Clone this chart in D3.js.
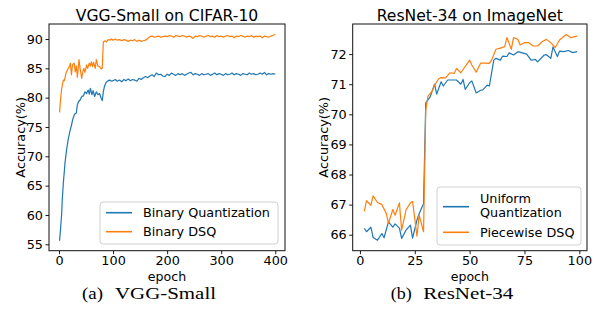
<!DOCTYPE html>
<html>
<head>
<meta charset="utf-8">
<script src="https://cdn.jsdelivr.net/npm/d3@7"></script>
<style>
  body { margin: 0; background: #fff; }
  svg { display: block; font-family: "DejaVu Sans", sans-serif; }
</style>
</head>
<body>
<svg width="597" height="314"></svg>
<script>
// ---- data ----
// (a) VGG-Small on CIFAR-10: [epoch, accuracy]
const vggBinary = [[1,55.6],[3,57.8],[5,60.3],[6,62.5],[8,65.4],[10,67.6],[11,68.8],[14,71.1],[17,72.9],[20,74.2],[23,75.3],[26,76.5],[29,77.2],[32,77.4],[34,78.8],[36,79.3],[39,79.6],[42,80.2],[45,80.3],[48,81.0],[51,80.7],[54,81.3],[56,80.6],[58,81.6],[61,80.5],[63,81.2],[66,80.2],[69,81.0],[72,80.5],[75,80.7],[78,79.9],[80,79.5],[82,81.0],[84,81.9],[87,82.6],[91,82.9],[94,83.0],[97,82.8],
  [100,82.9],[104,83.1],[108,82.8],[112,83.0],[116,82.7],[120,83.1],[124,82.9],[128,83.2],[132,82.9],[136,83.1],[140,83.0],[144,82.8],[148,83.3],[152,83.1],[156,83.4],[160,83.6],[164,83.4],[168,83.7],[172,83.9],[176,83.6],[180,84.2],[184,83.9],[188,84.0],[192,83.7],[196,83.6],[200,84.0],[204,83.8],[208,84.2],[212,84.0],[216,83.8],[220,84.1],[224,83.9],[228,84.1],[232,83.8],[236,84.0],[240,84.2],[244,84.3],[248,83.9],[252,84.1],[256,84.0],[260,83.8],[264,84.1],[268,83.9],[272,84.0],[276,84.1],[280,83.8],[284,84.0],[288,84.2],[292,83.9],[296,84.1],[300,84.0],[304,83.8],[308,84.1],[312,83.9],[316,84.0],[320,84.2],[324,83.9],[328,84.1],[332,84.0],[336,83.8],[340,84.1],[344,84.0],[348,83.9],[352,84.2],[356,84.0],[360,84.1],[364,83.9],[368,84.0],[372,84.2],[376,84.0],[380,84.3],[384,83.9],[388,84.1],[392,84.0],[396,84.1],[400,84.0]];
const vggDSQ = [[1,77.5],[3,79.8],[5,81.6],[8,83.0],[10,82.9],[13,84.2],[16,84.8],[19,85.3],[21,85.9],[23,83.9],[25,85.6],[28,85.9],[30,84.4],[32,85.4],[34,83.5],[37,86.5],[39,85.0],[42,83.3],[44,84.4],[46,85.0],[48,84.3],[51,85.6],[53,85.0],[56,85.9],[58,85.4],[60,86.1],[62,85.3],[64,86.0],[67,85.0],[69,86.5],[72,85.4],[75,85.3],[78,84.9],[80,85.0],[82,89.5],[85,89.7],[88,89.5],[91,89.9],[94,89.8],[97,90.0],
  [100,89.8],[104,90.0],[108,89.8],[112,89.9],[116,89.7],[120,89.9],[124,89.8],[128,89.6],[132,89.8],[136,89.7],[140,89.9],[144,89.6],[148,89.8],[152,89.6],[156,89.7],[160,89.8],[164,90.1],[168,90.4],[172,90.5],[176,90.3],[180,90.4],[184,90.5],[188,90.3],[192,90.4],[196,90.5],[200,90.4],[204,90.6],[208,90.5],[212,90.3],[216,90.6],[220,90.5],[224,90.4],[228,90.6],[232,90.5],[236,90.3],[240,90.5],[244,90.4],[248,90.1],[252,90.5],[256,90.4],[260,90.6],[264,90.5],[268,90.3],[272,90.5],[276,90.6],[280,90.4],[284,90.5],[288,90.3],[292,90.6],[296,90.4],[300,90.5],[304,90.3],[308,90.5],[312,90.6],[316,90.4],[320,90.5],[324,90.2],[328,90.5],[332,90.4],[336,90.6],[340,90.5],[344,90.3],[348,90.5],[352,90.4],[356,90.6],[360,90.3],[364,90.5],[368,90.4],[372,90.5],[376,90.2],[380,90.5],[384,90.4],[388,90.3],[392,90.5],[396,90.6],[400,90.8]];

// (b) ResNet-34 on ImageNet: [epoch, accuracy]
const resUniform = [[2,66.21],[3,66.1],[5,66.25],[6,65.91],[8,65.82],[10,66.04],[11,65.9],[13,66.43],[15,66.25],[16,66.36],[18,66.22],[19,65.88],[21,66.15],[23,66.32],[24,65.89],[26,66.49],[27,66.7],[29,67.04],[30,70.38],[32,70.58],[34,71.0],[35,70.67],[37,71.08],[38,70.94],[40,71.14],[44,71.14],[46,71.0],[47,71.16],[48,70.83],[50,71.05],[51,71.11],[53,70.71],[55,70.8],[56,70.81],[58,70.97],[59,70.94],[61,71.8],[62,71.86],[64,71.8],[65,71.93],[67,71.92],[68,72.04],[70,71.97],[72,72.08],[74,72.04],[76,72.0],[78,71.8],[80,71.82],[81,71.74],[84,71.97],[85,71.98],[87,71.86],[88,72.24],[90,71.92],[91,72.1],[93,72.08],[95,72.12],[97,72.05],[99,72.08]];
const resPiecewise = [[2,66.78],[3,67.13],[5,66.98],[6,67.29],[8,67.07],[10,67.0],[12,66.71],[13,66.38],[15,66.84],[16,66.65],[18,67.06],[19,66.15],[21,66.82],[23,67.06],[24,67.1],[26,65.95],[27,66.65],[29,66.1],[30,70.14],[31,70.6],[33,70.78],[34,70.96],[36,71.19],[37,71.22],[39,71.21],[41,71.38],[43,71.36],[44,71.52],[46,71.38],[50,71.8],[51,71.64],[53,71.4],[55,71.7],[57,71.7],[59,71.69],[60,71.8],[62,72.16],[64,72.2],[66,72.25],[67,72.55],[69,72.16],[70,72.55],[72,72.49],[73,72.3],[75,72.38],[77,72.38],[79,72.27],[81,72.27],[83,72.41],[85,72.49],[87,72.38],[89,72.22],[91,72.47],[94,72.65],[96,72.55],[99,72.6]];

const vggXTicks = [0, 100, 200, 300, 400];
const vggYTicks = [55, 60, 65, 70, 75, 80, 85, 90];
const resXTicks = [0, 25, 50, 75, 100];
const resYTicks = [66, 67, 68, 69, 70, 71, 72];

const blue = "#1f77b4", orange = "#ff7f0e";
const svg = d3.select("svg");

function panel(opt) {
  const x = d3.scaleLinear().domain(opt.xDomain).range([opt.left, opt.right]);
  const y = d3.scaleLinear().domain(opt.yDomain).range([opt.bottom, opt.top]);
  const g = svg.append("g");

  const line = d3.line().x(d => x(d[0])).y(d => y(d[1]));
  opt.series.forEach(s => {
    g.append("path")
      .datum(s.data)
      .attr("fill", "none")
      .attr("stroke", s.color)
      .attr("stroke-width", 1.2)
      .attr("stroke-linejoin", "round")
      .attr("d", line);
  });

  // axes
  const ax = g.append("g")
    .attr("transform", `translate(0,${opt.bottom})`)
    .call(d3.axisBottom(x).tickValues(opt.xTicks).tickSize(3.5).tickPadding(2));
  const ay = g.append("g")
    .attr("transform", `translate(${opt.left},0)`)
    .call(d3.axisLeft(y).tickValues(opt.yTicks).tickSize(3.5).tickPadding(2.5));
  [ax, ay].forEach(a => {
    a.select(".domain").remove();
    a.selectAll("text").attr("font-size", 12.8).attr("fill", "#000")
      .attr("font-family", "DejaVu Sans");
    a.selectAll("line").attr("stroke", "#000").attr("stroke-width", 0.9);
  });

  // frame
  g.append("rect")
    .attr("x", opt.left).attr("y", opt.top)
    .attr("width", opt.right - opt.left).attr("height", opt.bottom - opt.top)
    .attr("fill", "none").attr("stroke", "#111").attr("stroke-width", 1);

  const cx = (opt.left + opt.right) / 2;
  g.append("text").attr("x", cx).attr("y", 20.5)
    .attr("text-anchor", "middle").attr("font-size", 15.6).text(opt.title);
  g.append("text").attr("x", cx).attr("y", 280.6)
    .attr("text-anchor", "middle").attr("font-size", 12.6).text("epoch");
  g.append("text")
    .attr("transform", `translate(${opt.left - 24.5},${(opt.top + opt.bottom) / 2}) rotate(-90)`)
    .attr("text-anchor", "middle").attr("font-size", 12.8).text("Accuracy(%)");

  // legend
  const L = opt.legend;
  g.append("rect")
    .attr("x", L.x).attr("y", L.y).attr("width", L.w).attr("height", L.h)
    .attr("rx", 3).attr("fill", "#fff").attr("fill-opacity", 0.8)
    .attr("stroke", "#d0d0d0").attr("stroke-width", 1);
  L.items.forEach(it => {
    g.append("line")
      .attr("x1", L.x + 6).attr("x2", L.x + 32)
      .attr("y1", it.ly).attr("y2", it.ly)
      .attr("stroke", it.color).attr("stroke-width", 1.6);
    it.lines.forEach((t, i) => {
      g.append("text").attr("x", L.x + 43).attr("y", it.ty + i * 13.5)
        .attr("font-size", 12.8).text(t);
    });
  });

  // caption
  const cap = svg.append("g").attr("font-family", "Liberation Serif, Times New Roman, serif")
    .attr("font-size", 17.5);
  cap.append("text").attr("x", opt.cap.x1).attr("y", 299.2)
    .attr("textLength", opt.cap.w1).attr("lengthAdjust", "spacingAndGlyphs").text(opt.cap.a);
  cap.append("text").attr("x", opt.cap.x2).attr("y", 299.2)
    .attr("textLength", opt.cap.w2).attr("lengthAdjust", "spacingAndGlyphs").text(opt.cap.b);
}

panel({
  left: 49, right: 285, top: 24, bottom: 250.7,
  xDomain: [-18.5, 418], yDomain: [53.91, 92.56],
  xTicks: vggXTicks, yTicks: vggYTicks,
  title: "VGG-Small on CIFAR-10",
  series: [{ data: vggBinary, color: blue }, { data: vggDSQ, color: orange }],
  legend: { x: 100, y: 202, w: 178, h: 42, items: [
    { color: blue, ly: 212.7, ty: 217, lines: ["Binary Quantization"] },
    { color: orange, ly: 231.7, ty: 236, lines: ["Binary DSQ"] }
  ] },
  cap: { a: "(a)", x1: 82, w1: 21, b: "VGG-Small", x2: 115, w2: 101 }
});

panel({
  left: 352.7, right: 587, top: 24, bottom: 250.7,
  xDomain: [-3.3, 103.5], yDomain: [65.47, 73.0],
  xTicks: resXTicks, yTicks: resYTicks,
  title: "ResNet-34 on ImageNet",
  series: [{ data: resUniform, color: blue }, { data: resPiecewise, color: orange }],
  legend: { x: 437, y: 187, w: 144, h: 58, items: [
    { color: blue, ly: 206.7, ty: 203.3, lines: ["Uniform", "Quantization"] },
    { color: orange, ly: 232.3, ty: 236.7, lines: ["Piecewise DSQ"] }
  ] },
  cap: { a: "(b)", x1: 390.7, w1: 21, b: "ResNet-34", x2: 423.3, w2: 90 }
});
</script>
</body>
</html>
